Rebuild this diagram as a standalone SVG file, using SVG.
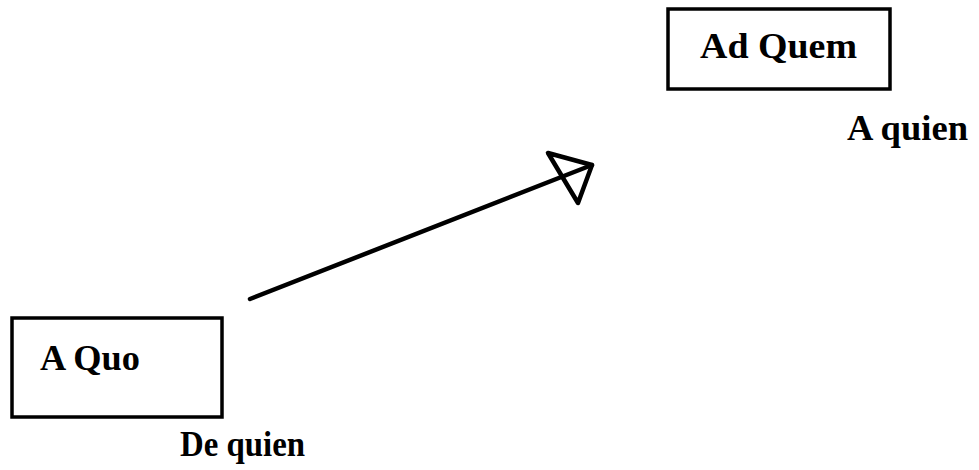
<svg xmlns="http://www.w3.org/2000/svg" width="979" height="470" viewBox="0 0 979 470">
<style>
.box{fill:#fff;stroke:#000;stroke-width:3.5}
.t{font-family:"Liberation Serif","Times New Roman",serif;font-weight:bold;font-size:35px;fill:#000}
.c{fill:none;stroke:#000;stroke-width:4.5;stroke-linecap:round;stroke-linejoin:round}
</style>
<rect width="979" height="470" fill="#fff"/>
<g id="ad-quem">
<rect class="box" x="668" y="9" width="222" height="80"/>
<text class="t" x="700" y="58" textLength="157" lengthAdjust="spacingAndGlyphs">Ad Quem</text>
</g>
<g id="a-quien">
<text class="t" x="847" y="140" textLength="121" lengthAdjust="spacingAndGlyphs">A quien</text>
</g>
<g id="a-quo">
<rect class="box" x="12" y="318" width="210" height="99"/>
<text class="t" x="40" y="370" textLength="100" lengthAdjust="spacingAndGlyphs">A Quo</text>
</g>
<g id="de-quien">
<text class="t" x="180" y="456" textLength="125" lengthAdjust="spacingAndGlyphs">De quien</text>
</g>
<g id="connectors">
<line class="c" x1="250" y1="299" x2="592" y2="165"/>
<polygon class="c" points="548,153 592,165 578,203"/>
</g>
</svg>
